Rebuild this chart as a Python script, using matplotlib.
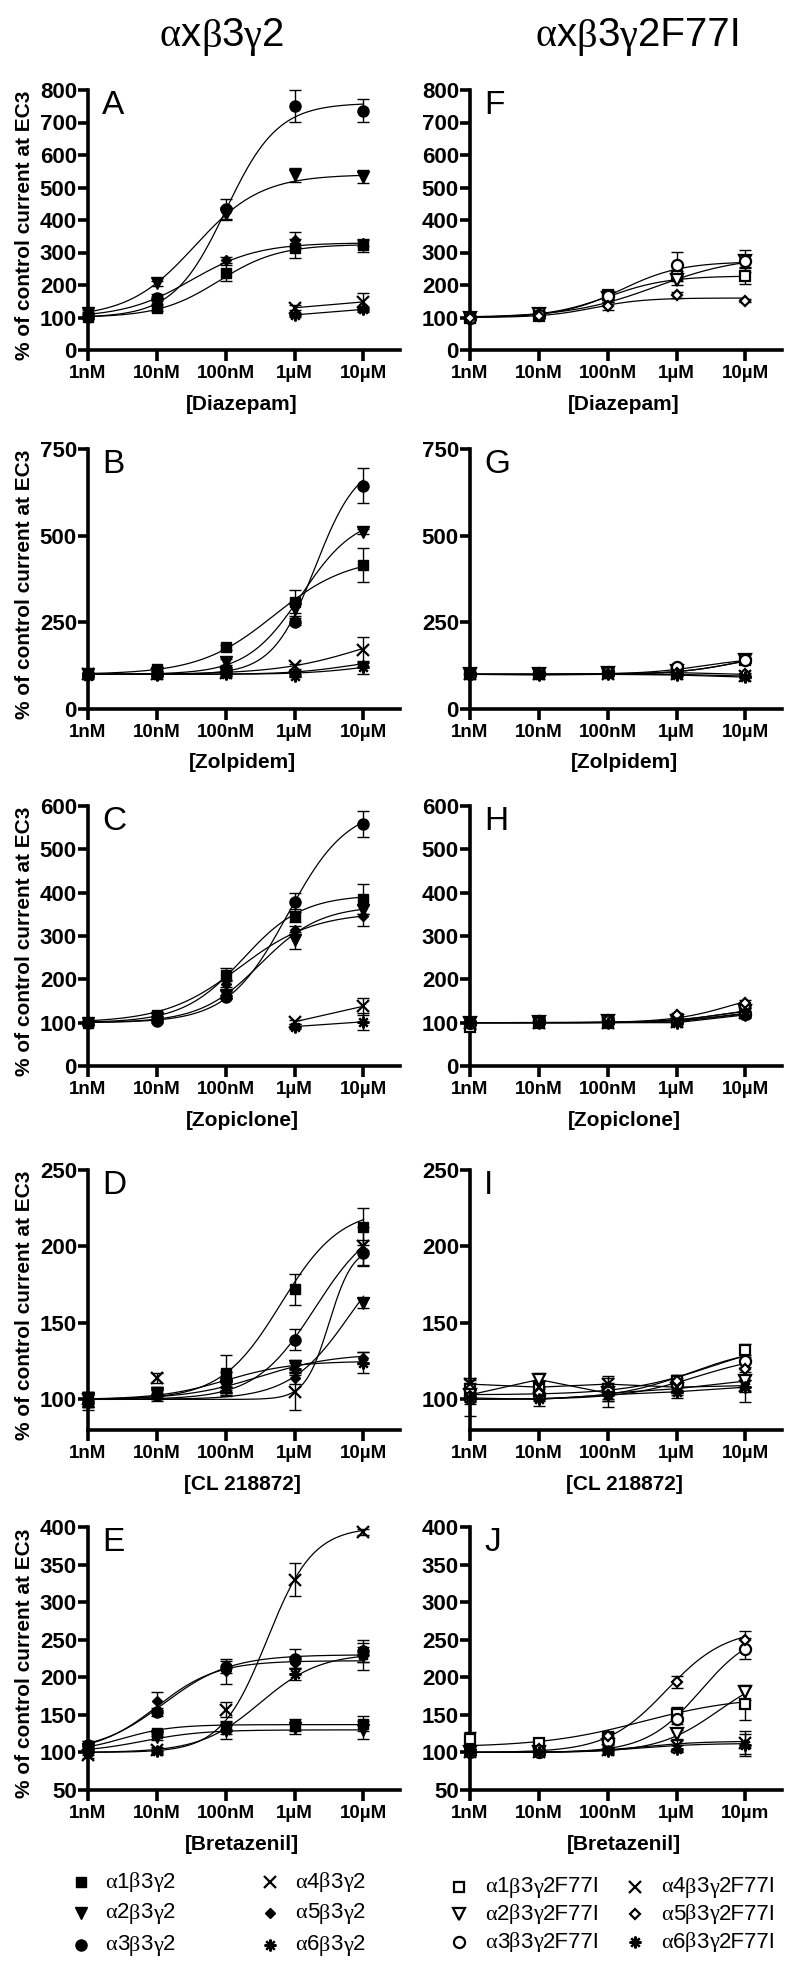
import numpy as np
import matplotlib
matplotlib.use('Agg')
import matplotlib.pyplot as plt
from matplotlib.offsetbox import TextArea, HPacker, AnnotationBbox
from matplotlib import font_manager as fm

avail = {f.name for f in fm.fontManager.ttflist}
SANS = 'Liberation Sans' if 'Liberation Sans' in avail else 'DejaVu Sans'
SERIF = 'Liberation Serif' if 'Liberation Serif' in avail else 'DejaVu Serif'
plt.rcParams['font.family'] = [SANS, 'DejaVu Sans']
plt.rcParams['font.weight'] = 'bold'

N = np.nan
# ---------------- data ----------------
conc_log = [-9, -8, -7, -6, -5]
xtick_labels = ['1nM', '10nM', '100nM', '1µM', '10µM']
xtick_labels_J = ['1nM', '10nM', '100nM', '1µM', '10µm']
drugs = ['[Diazepam]', '[Zolpidem]', '[Zopiclone]', '[CL 218872]', '[Bretazenil]']
titles = ['αxβ3γ2', 'αxβ3γ2F77I']
legend_left = ['α1β3γ2', 'α2β3γ2', 'α3β3γ2', 'α4β3γ2', 'α5β3γ2', 'α6β3γ2']
legend_right = ['α1β3γ2F77I', 'α2β3γ2F77I', 'α3β3γ2F77I', 'α4β3γ2F77I', 'α5β3γ2F77I', 'α6β3γ2F77I']
panel_letters_left = ['A', 'B', 'C', 'D', 'E']
panel_letters_right = ['F', 'G', 'H', 'I', 'J']
ylims = [(0, 800), (0, 750), (0, 600), (80, 250), (50, 400)]
yticks = [list(range(0, 801, 100)), [0, 250, 500, 750], list(range(0, 601, 100)),
          [100, 150, 200, 250], list(range(50, 401, 50))]

# series order: a1, a2, a3, a4, a5, a6 ; fit = (bottom, top, logEC50, hill) or None (straight)
A_vals = [[103, 128, 238, 313, 323], [113, 205, 420, 538, 533], [103, 161, 434, 751, 736],
          [N, N, N, 130, 148], [110, 150, 277, 340, 330], [N, N, N, 108, 125]]
A_errs = [[8, 8, 25, 30, 20], [10, 8, 20, 22, 20], [8, 10, 32, 48, 35],
          [0, 0, 0, 8, 28], [8, 8, 8, 22, 10], [0, 0, 0, 5, 8]]
A_fits = [(100, 325, -7.1, 1.0), (100, 540, -7.45, 0.9), (100, 760, -7.0, 1.15),
          None, (100, 330, -7.5, 0.9), None]

F_vals = [[100, 105, 169, 227, 229], [100, 110, 160, 215, 273], [100, 108, 165, 263, 273],
          [N, N, N, N, N], [100, 105, 135, 170, 152], [N, N, N, N, N]]
F_errs = [[5, 8, 12, 15, 25], [5, 10, 12, 15, 20], [5, 8, 12, 38, 34],
          [0, 0, 0, 0, 0], [5, 5, 12, 10, 5], [0, 0, 0, 0, 0]]
F_fits = [(100, 228, -7.0, 1.0), (100, 290, -6.3, 0.7), (100, 272, -6.8, 1.0),
          None, (100, 160, -7.2, 1.2), None]

B_vals = [[100, 115, 178, 310, 415], [100, 105, 135, 288, 512], [100, 100, 115, 252, 644],
          [100, 100, 105, 123, 171], [100, 100, 101, 105, 128], [95, 98, 100, 96, 120]]
B_errs = [[5, 5, 8, 34, 50], [5, 5, 8, 20, 8], [5, 5, 5, 10, 50],
          [5, 5, 5, 8, 38], [5, 5, 5, 5, 8], [5, 5, 5, 5, 18]]
B_fits = [(100, 440, -6.3, 0.8), (100, 560, -5.9, 1.1), (100, 720, -5.7, 1.4),
          (100, 250, -5.0, 0.7), (100, 150, -5.2, 1.0), (100, 140, -5.0, 1.0)]

G_vals = [[100, 100, 103, 108, 142], [100, 102, 105, 110, 140], [100, 104, 108, 120, 140],
          [100, 100, 100, 100, 95], [100, 100, 102, 105, 100], [100, 98, 100, 98, 92]]
G_errs = [[4, 4, 4, 4, 6], [4, 4, 4, 4, 6], [4, 4, 4, 5, 6],
          [4, 4, 4, 4, 4], [4, 4, 4, 4, 4], [4, 4, 4, 4, 4]]
G_fits = [(100, 170, -5.1, 1.0), (100, 165, -5.15, 1.0), (100, 150, -5.6, 1.0),
          None, None, None]

C_vals = [[100, 117, 211, 347, 385], [100, 110, 165, 290, 361], [100, 105, 160, 378, 558],
          [N, N, N, 102, 138], [100, 110, 190, 314, 347], [N, N, N, 91, 102]]
C_errs = [[5, 5, 15, 15, 35], [5, 5, 8, 20, 10], [5, 5, 5, 22, 30],
          [0, 0, 0, 5, 20], [5, 5, 8, 10, 25], [0, 0, 0, 5, 20]]
C_fits = [(100, 395, -6.75, 1.0), (100, 370, -6.5, 1.0), (100, 600, -6.1, 1.0),
          None, (100, 355, -6.8, 0.8), None]

H_vals = [[90, 100, 100, 103, 127], [100, 102, 103, 105, 127], [100, 104, 104, 108, 119],
          [100, 100, 100, 102, 122], [100, 105, 106, 118, 146], [100, 100, 100, 100, 118]]
H_errs = [[4, 4, 4, 4, 6], [4, 4, 4, 4, 6], [4, 4, 4, 4, 6],
          [4, 4, 4, 4, 4], [4, 4, 4, 5, 6], [4, 4, 4, 4, 4]]
H_fits = [(100, 140, -5.3, 1.0), (100, 140, -5.3, 1.0), (100, 130, -5.3, 1.0),
          None, (100, 180, -5.2, 1.0), None]

D_vals = [[100, 105, 117, 172, 213], [100, 104, 110, 122, 163], [98, 103, 112, 139, 196],
          [100, 114, 108, 105, 200], [100, 103, 108, 114, 127], [100, 103, 108, 120, 124]]
D_errs = [[4, 3, 12, 10, 12], [4, 3, 8, 4, 3], [5, 4, 6, 7, 8],
          [5, 3, 5, 12, 13], [5, 3, 4, 4, 4], [5, 3, 4, 4, 7]]
D_fits = [(100, 225, -6.2, 1.0), (100, 210, -5.2, 1.0), (100, 220, -5.7, 1.0),
          (100, 200, -5.5, 2.5), (100, 130, -6.5, 0.8), (100, 125, -7.0, 0.9)]

I_vals = [[107, 108, 107, 112, 132], [103, 113, 104, 107, 112], [101, 103, 105, 110, 125],
          [110, 108, 110, 108, 109], [102, 104, 103, 112, 120], [101, 100, 103, 105, 108]]
I_errs = [[4, 4, 4, 4, 4], [4, 4, 4, 4, 4], [4, 4, 10, 4, 4],
          [4, 4, 4, 4, 4], [4, 4, 4, 4, 4], [12, 4, 4, 4, 10]]
I_fits = [(103, 140, -5.5, 0.7), None, (100, 135, -5.8, 0.8),
          None, (100, 130, -5.7, 0.8), None]

E_vals = [[105, 126, 134, 137, 138], [105, 120, 130, 132, 130], [110, 154, 214, 225, 235],
          [97, 103, 157, 330, 394], [110, 168, 208, 219, 228], [100, 102, 130, 205, 230]]
E_errs = [[4, 4, 6, 8, 10], [4, 4, 12, 8, 12], [5, 5, 8, 13, 15],
          [4, 4, 10, 22, 4], [5, 12, 17, 8, 18], [3, 4, 6, 8, 10]]
E_fits = [(100, 137, -8.5, 1.2), (100, 130, -8.2, 1.0), (100, 230, -7.9, 0.9),
          (100, 400, -6.4, 1.3), (100, 222, -8.0, 1.0), (100, 232, -6.5, 1.0)]

J_vals = [[118, 113, 120, 151, 165], [100, 100, 110, 124, 180], [100, 100, 115, 145, 238],
          [100, 100, 103, 108, 113], [100, 105, 122, 194, 250], [100, 100, 102, 105, 110]]
J_errs = [[9, 4, 6, 9, 22], [4, 4, 4, 6, 10], [4, 4, 5, 7, 14],
          [4, 4, 4, 8, 15], [4, 4, 5, 8, 11], [4, 4, 4, 5, 15]]
J_fits = [(107, 175, -6.5, 0.6), (100, 210, -5.4, 1.0), (100, 265, -5.65, 1.1),
          (100, 115, -6.5, 1.0), (100, 265, -6.15, 1.0), (100, 112, -6.5, 1.0)]

left_panels = [(A_vals, A_errs, A_fits), (B_vals, B_errs, B_fits), (C_vals, C_errs, C_fits),
               (D_vals, D_errs, D_fits), (E_vals, E_errs, E_fits)]
right_panels = [(F_vals, F_errs, F_fits), (G_vals, G_errs, G_fits), (H_vals, H_errs, H_fits),
                (I_vals, I_errs, I_fits), (J_vals, J_errs, J_fits)]

# ---------------- layout ----------------
W, H = 800, 1979
fig = plt.figure(figsize=(W / 100, H / 100), dpi=100)

def fx(px):
    return px / W

def fy(py):
    return 1 - py / H

row_tops = [90, 449, 806, 1170, 1527]
row_bots = [350, 709, 1066, 1430, 1790]
col_x = [(88, 400), (470, 782)]

markers = ['s', 'v', 'o', 'x', 'D', (8, 2, 0)]
msizes = [7, 8, 8, 8, 5.5, 8.5]


def is_greek(c):
    return '\u0370' <= c <= '\u03ff'


def mixed_text(fig, x, y, s, size, align=(0.5, 0.5)):
    parts = []
    for c in s:
        fam = SERIF if is_greek(c) else SANS
        if parts and parts[-1][1] == fam:
            parts[-1][0] += c
        else:
            parts.append([c, fam])
    children = [TextArea(p, textprops=dict(fontfamily=f, fontsize=size, fontweight='normal', color='black'))
                for p, f in parts]
    box = HPacker(children=children, align='baseline', pad=0, sep=0)
    ab = AnnotationBbox(box, (fx(x), fy(y)), xycoords='figure fraction', frameon=False,
                        box_alignment=align, pad=0)
    fig.add_artist(ab)


def draw_panel(ax, vals, errs, fits, open_style):
    x = np.array(conc_log, float)
    for k in range(6):
        y = np.array(vals[k], float)
        e = np.array(errs[k], float)
        ok = ~np.isnan(y)
        if not ok.any():
            continue
        if fits[k] is None:
            ax.plot(x[ok], y[ok], color='black', lw=0.9, zorder=2)
        else:
            b, t, ec, h = fits[k]
            xs = np.linspace(x[ok].min(), x[ok].max(), 300)
            ax.plot(xs, b + (t - b) / (1 + 10 ** ((ec - xs) * h)), color='black', lw=0.9, zorder=2)
        eb = ax.errorbar(x[ok], y[ok], yerr=e[ok], fmt='none', ecolor='black',
                         elinewidth=1.0, capsize=4.5, capthick=1.0, zorder=3)
        for art in list(eb.lines[1]) + list(eb.lines[2]):
            art.set_clip_on(False)
        m = markers[k]
        lined = m == 'x' or isinstance(m, tuple)
        mfc = 'white' if (open_style and not lined) else 'black'
        ax.plot(x[ok], y[ok], linestyle='none', marker=m, markersize=msizes[k],
                markerfacecolor=mfc, markeredgecolor='black',
                markeredgewidth=1.6 if (lined or open_style) else 1.0,
                clip_on=False, zorder=4)


def style_axes(ax, r, right):
    ax.set_xlim(-9, -4.47)
    ax.set_ylim(*ylims[r])
    ax.set_yticks(yticks[r])
    ax.set_xticks(conc_log)
    ax.set_xticklabels(xtick_labels_J if (right and r == 4) else xtick_labels)
    for s in ['top', 'right']:
        ax.spines[s].set_visible(False)
    for s in ['left', 'bottom']:
        ax.spines[s].set_linewidth(2.6)
    ax.tick_params(axis='both', width=2.6, direction='out', color='black')
    ax.tick_params(axis='x', length=8, labelsize=13.5, pad=3)
    ax.tick_params(axis='y', length=7, labelsize=16, pad=1)
    for lbl in ax.get_xticklabels() + ax.get_yticklabels():
        lbl.set_fontweight('bold')
    ax.patch.set_alpha(0)


for col in range(2):
    x0, x1 = col_x[col]
    panels = right_panels if col else left_panels
    letters = panel_letters_right if col else panel_letters_left
    for r in range(5):
        t, b = row_tops[r], row_bots[r]
        ax = fig.add_axes([fx(x0), fy(b), fx(x1 - x0), (b - t) / H])
        vals, errs, fits = panels[r]
        draw_panel(ax, vals, errs, fits, open_style=bool(col))
        style_axes(ax, r, bool(col))
        ax.text(0.045, 1.0, letters[r], transform=ax.transAxes, ha='left', va='top',
                fontsize=24, fontweight='normal')
        fig.text(fx((x0 + x1) / 2 - 2), fy(b + 54), drugs[r], ha='center', va='center',
                 fontsize=15, fontweight='bold')
        if col == 0:
            fig.text(fx(25), fy((t + b) / 2 + 5), '% of control current at EC3', rotation=90,
                     ha='center', va='center', fontsize=15, fontweight='bold')

# titles
mixed_text(fig, 222, 36, titles[0], 29)
mixed_text(fig, 638, 36, titles[1], 29)

# legends
lax = fig.add_axes([0, 0, 1, 1])
lax.set_xlim(0, W)
lax.set_ylim(H, 0)
lax.axis('off')
leg_rows_l = [1882, 1913, 1945]
leg_rows_r = [1887, 1914, 1942]
for k in range(6):
    c = k // 3
    rr = k % 3
    m = markers[k]
    lined = m == 'x' or isinstance(m, tuple)
    mx = [81, 270][c]
    tx = [105, 295][c]
    lax.plot([mx], [leg_rows_l[rr]], linestyle='none', marker=m, markersize=msizes[k],
             markerfacecolor='black', markeredgecolor='black',
             markeredgewidth=1.6 if lined else 1.0)
    mixed_text(fig, tx, leg_rows_l[rr], legend_left[k], 16, align=(0, 0.5))
    mx = [459, 635][c]
    tx = [485, 661][c]
    lax.plot([mx], [leg_rows_r[rr]], linestyle='none', marker=m, markersize=msizes[k],
             markerfacecolor='black' if lined else 'white', markeredgecolor='black',
             markeredgewidth=1.6)
    mixed_text(fig, tx, leg_rows_r[rr], legend_right[k], 16, align=(0, 0.5))

fig.savefig('out.png', dpi=100)
